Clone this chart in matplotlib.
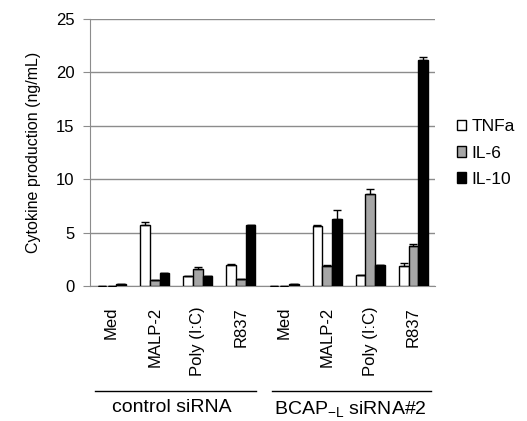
import matplotlib
matplotlib.use("Agg")
import matplotlib.pyplot as plt
from matplotlib.patches import Patch
import numpy as np

plt.rcParams['font.family'] = ['Liberation Sans', 'DejaVu Sans']

stimuli = ['Med', 'MALP-2', 'Poly (I:C)', 'R837']
groups = ['control siRNA', 'BCAP$_{\\mathregular{-L}}$ siRNA#2']
series = ['TNFa', 'IL-6', 'IL-10']

# control siRNA then BCAP-L siRNA#2, 4 stimuli each
tnfa = [0.0, 5.7, 0.95, 2.0, 0.0, 5.6, 1.0, 1.85]
tnfa_err = [0.0, 0.3, 0.0, 0.08, 0.0, 0.08, 0.05, 0.3]
il6 = [0.0, 0.55, 1.6, 0.68, 0.0, 1.85, 8.6, 3.75]
il6_err = [0.0, 0.05, 0.2, 0.0, 0.0, 0.08, 0.45, 0.2]
il10 = [0.2, 1.25, 0.95, 5.7, 0.2, 6.25, 1.95, 21.2]
il10_err = [0.0, 0.0, 0.0, 0.0, 0.0, 0.9, 0.0, 0.2]

colors = ['white', '#a6a6a6', 'black']

fig = plt.figure(figsize=(5.27, 4.21), dpi=100)
ax = fig.add_axes([0.1708, 0.3207, 0.6546, 0.6342])

x = np.arange(len(tnfa))
w = 0.225
vals = [tnfa, il6, il10]
errs = [tnfa_err, il6_err, il10_err]
for i in range(3):
    b = ax.bar(x + (i - 1) * w, vals[i], w, color=colors[i], edgecolor='black',
               linewidth=1, yerr=[np.zeros(len(x)), errs[i]],
               error_kw=dict(ecolor='black', elinewidth=1, capsize=3, capthick=1),
               zorder=3)
    # empty bars are not drawn in the original
    for p in b.patches:
        if p.get_height() == 0:
            p.set_visible(False)

ax.set_xlim(-0.5, 7.5)
ax.set_ylim(0, 25)
ax.set_yticks(range(0, 26, 5))
ax.yaxis.grid(True, color='#8c8c8c', linewidth=1)
ax.set_axisbelow(True)
for s in ['top', 'right']:
    ax.spines[s].set_visible(False)
ax.spines['left'].set_color('#8c8c8c')
ax.spines['bottom'].set_color('#8c8c8c')
ax.tick_params(axis='y', direction='out', length=5, color='#8c8c8c', labelsize=12, pad=6)
ax.tick_params(axis='x', length=0, labelsize=12, pad=15)
ax.set_xticks(x)
ax.set_xticklabels(stimuli * 2, rotation=90, va='top', ha='center')
ax.set_ylabel('Cytokine production (ng/mL)', fontsize=11.5, labelpad=11)

tr = ax.get_xaxis_transform()
ax.plot([-0.38, 3.34], [-0.393, -0.393], color='black', lw=1, transform=tr, clip_on=False)
ax.plot([3.72, 7.4], [-0.393, -0.393], color='black', lw=1, transform=tr, clip_on=False)
ax.text(1.40, -0.425, groups[0], transform=tr, ha='center', va='top', fontsize=14)
ax.text(5.53, -0.425, groups[1], transform=tr, ha='center', va='top', fontsize=14)

handles = [Patch(facecolor=c, edgecolor='black', linewidth=1, label=s)
           for c, s in zip(colors, series)]
fig.legend(handles=handles, loc='center left', bbox_to_anchor=(0.85, 1 - 153 / 421),
           frameon=False, fontsize=12.5, handlelength=0.55, handleheight=0.55,
           handletextpad=0.3, labelspacing=0.65, borderpad=0)

fig.savefig('out.png', dpi=100)
